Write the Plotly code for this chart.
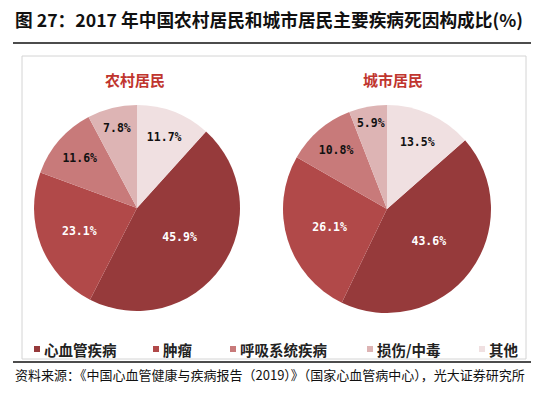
import plotly.graph_objects as go

# ---------------- data ----------------
categories = ["心血管疾病", "肿瘤", "呼吸系统疾病", "损伤/中毒", "其他"]
rural_values = [45.9, 23.1, 11.6, 7.8, 11.7]
urban_values = [43.6, 26.1, 10.8, 5.9, 13.5]
pie_titles = ["农村居民", "城市居民"]
title_text = "图 27：2017 年中国农村居民和城市居民主要疾病死因构成比(%)"
source_text = "资料来源：《中国心血管健康与疾病报告（2019）》（国家心血管病中心），光大证券研究所"

# ---------------- style ----------------
colors = ["#963a3b", "#b14949", "#c87a7a", "#ddb4b4", "#f0e0e1"]
text_colors = ["white", "white", "#111111", "#111111", "#111111"]
W, H = 544, 396
CJK = "Noto Sans CJK SC"


def px(x):
    return x / W


def py(y):
    return 1 - y / H


def pie_domain(cx, cy, r):
    return dict(x=[px(cx - r), px(cx + r)], y=[py(cy + r), py(cy - r)])


def start_rotation(vals):
    # first slice (心血管) starts right after the last slice (其他), clockwise from 12 o'clock
    return 360 * vals[-1] / sum(vals)


fig = go.Figure()

pie_geom = [(137, 208, 103), (387, 209, 104)]
for vals, (cx, cy, r) in zip([rural_values, urban_values], pie_geom):
    fig.add_trace(go.Pie(
        labels=categories,
        values=vals,
        sort=False,
        direction="clockwise",
        rotation=start_rotation(vals),
        marker=dict(colors=colors, line=dict(width=0)),
        texttemplate="<b>%{value:.1f}%</b>",
        textposition="inside",
        insidetextorientation="horizontal",
        textfont=dict(family="DejaVu Sans Mono", size=11.5, color=text_colors),
        domain=pie_domain(cx, cy, r),
        showlegend=False,
        hoverinfo="label+percent",
    ))

shapes = []
annotations = []

# title + rule
annotations.append(dict(x=px(13), y=py(19), xref="paper", yref="paper", xanchor="left", yanchor="middle",
                        text="<b>" + title_text + "</b>", showarrow=False,
                        font=dict(family=CJK, size=17.7, color="#111111")))
shapes.append(dict(type="line", xref="paper", yref="paper", x0=px(13), x1=px(531), y0=py(43), y1=py(43),
                   line=dict(color="#111111", width=1.5)))

# chart frame
shapes.append(dict(type="rect", xref="paper", yref="paper", x0=px(22), x1=px(526), y0=py(359), y1=py(56),
                   line=dict(color="#d4d4d4", width=1)))

# pie subtitles
for t, xc in zip(pie_titles, [135, 393]):
    annotations.append(dict(x=px(xc), y=py(80), xref="paper", yref="paper", xanchor="center", yanchor="middle",
                            text="<b>" + t + "</b>", showarrow=False,
                            font=dict(family=CJK, size=15, color="#c0352e")))

# legend
legend_x = [34, 153, 230, 367, 479]
ly = 349
for cat, col, lx in zip(categories, colors, legend_x):
    shapes.append(dict(type="rect", xref="paper", yref="paper", x0=px(lx), x1=px(lx + 6),
                       y0=py(ly + 3), y1=py(ly - 3), line=dict(width=0), fillcolor=col))
    annotations.append(dict(x=px(lx + 8), y=py(ly), xref="paper", yref="paper", xanchor="left", yanchor="middle",
                            text="<b>" + cat + "</b>", showarrow=False,
                            font=dict(family=CJK, size=14.5, color="#222222")))

# bottom rule + source
shapes.append(dict(type="line", xref="paper", yref="paper", x0=px(13), x1=px(531), y0=py(362), y1=py(362),
                   line=dict(color="#111111", width=1.5)))
annotations.append(dict(x=px(13), y=py(374), xref="paper", yref="paper", xanchor="left", yanchor="middle",
                        text=source_text, showarrow=False,
                        font=dict(family=CJK, size=13, color="#111111")))

fig.update_layout(
    width=W, height=H,
    margin=dict(l=0, r=0, t=0, b=0),
    paper_bgcolor="white",
    plot_bgcolor="white",
    shapes=shapes,
    annotations=annotations,
    showlegend=False,
)

# remove the browser's default page margin so the figure fills the window exactly
fig.write_html("out.html", config={"displayModeBar": False},
               post_script="document.body.style.margin='0';")
